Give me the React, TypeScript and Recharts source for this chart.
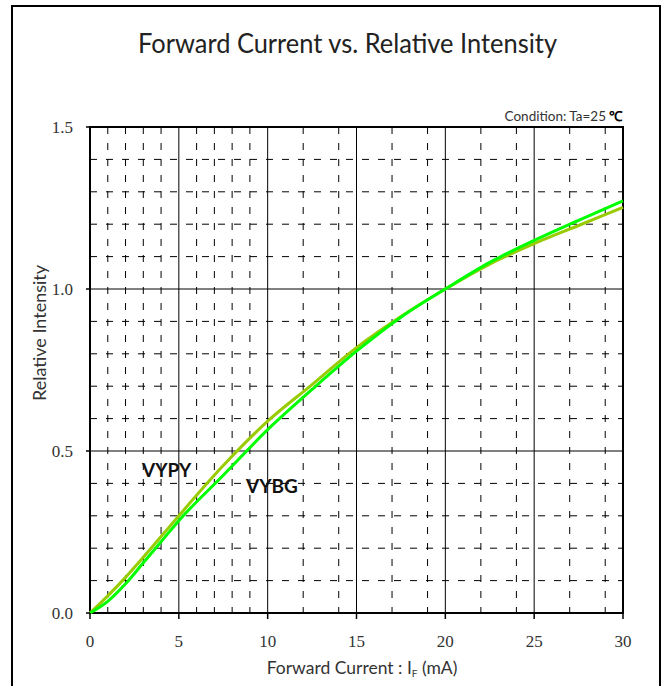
import React from 'react';
import {
  LineChart,
  Line,
  XAxis,
  YAxis,
  CartesianGrid,
  ReferenceArea,
} from 'recharts';

// Forward current (mA) sample points
const currentMA = [0, 1, 2, 3, 4, 5, 7.5, 10, 12.5, 15, 17.5, 20, 22.5, 25, 27.5, 30];
// Relative intensity per part number
const vypyIntensity = [0, 0.053, 0.11, 0.172, 0.236, 0.3, 0.455, 0.592, 0.705, 0.819, 0.915, 1.0, 1.077, 1.14, 1.196, 1.252];
const vybgIntensity = [0, 0.036, 0.09, 0.155, 0.22, 0.285, 0.425, 0.566, 0.69, 0.808, 0.913, 1.0, 1.082, 1.15, 1.212, 1.272];

const xTicks = [0, 5, 10, 15, 20, 25, 30];
const yTicks = [0, 0.5, 1.0, 1.5];
const majorX = [5, 10, 15, 20, 25];
const majorY = [0.5, 1.0];
const minorX = [1, 2, 3, 4, 6, 7, 8, 9, 11, 12, 13, 14, 16, 17, 18, 19, 21, 22, 23, 24, 26, 27, 28, 29];
const minorY = [0.1, 0.2, 0.3, 0.4, 0.6, 0.7, 0.8, 0.9, 1.1, 1.2, 1.3, 1.4];

const data = currentMA.map((i, k) => ({
  i,
  VYPY: vypyIntensity[k],
  VYBG: vybgIntensity[k],
}));

const W = 666;
const H = 686;
const sans = 'Lato, "Open Sans", sans-serif';
const serif = 'Liberation Serif, DejaVu Serif, serif';

// Serif tick labels under the current axis
const XTick = (props: any) => {
  const { x, y, payload } = props;
  return (
    <text x={x} y={y} dy="0.71em" textAnchor="middle" fontFamily={serif} fontSize={17} fill="#333">
      {payload.value}
    </text>
  );
};

// Serif tick labels beside the intensity axis
const YTick = (props: any) => {
  const { x, y, payload } = props;
  return (
    <text x={x} y={y} dy="0.355em" textAnchor="end" fontFamily={serif} fontSize={17} fill="#333">
      {Number(payload.value).toFixed(1)}
    </text>
  );
};

export default function App() {
  return (
    <div style={{ position: 'absolute', left: 0, top: 0, width: W, height: H, background: '#fff' }}>
      <LineChart
        width={W}
        height={H}
        data={data}
        margin={{ top: 127, right: 43, bottom: 0, left: 0 }}
      >
        <CartesianGrid
          stroke="#000"
          strokeWidth={1}
          strokeDasharray="7 9"
          horizontalValues={minorY}
          verticalValues={minorX}
        />
        <CartesianGrid
          stroke="#000"
          strokeWidth={1}
          horizontalValues={majorY}
          verticalValues={majorX}
        />
        <XAxis
          type="number"
          dataKey="i"
          domain={[0, 30]}
          ticks={xTicks}
          height={73}
          axisLine={false}
          tickLine={{ stroke: '#000', strokeWidth: 1.5 }}
          tickSize={6}
          tickMargin={16}
          tick={<XTick />}
        />
        <YAxis
          type="number"
          domain={[0, 1.5]}
          ticks={yTicks}
          width={90}
          axisLine={false}
          tickLine={{ stroke: '#000', strokeWidth: 1.5 }}
          tickSize={4}
          tickMargin={13}
          tick={<YTick />}
        />
        <Line
          type="monotone"
          dataKey="VYPY"
          stroke="#99CC00"
          strokeWidth={3}
          dot={false}
          isAnimationActive={false}
        />
        <Line
          type="monotone"
          dataKey="VYBG"
          stroke="#00FF00"
          strokeWidth={3}
          dot={false}
          isAnimationActive={false}
        />
        <ReferenceArea
          x1={0}
          x2={30}
          y1={0}
          y2={1.5}
          fill="none"
          fillOpacity={0}
          stroke="#000"
          strokeWidth={2}
          ifOverflow="visible"
        />
      </LineChart>

      <svg
        width={W}
        height={H}
        style={{ position: 'absolute', left: 0, top: 0, pointerEvents: 'none' }}
      >
        <rect x={12} y={6} width={648} height={700} fill="none" stroke="#000" strokeWidth={2} />
        <text
          x={138}
          y={53}
          fontFamily={sans}
          fontSize={26}
          fill="#222"
          textLength={419}
          lengthAdjust="spacingAndGlyphs"
        >
          Forward Current vs. Relative Intensity
        </text>
        <text x={622} y={121} textAnchor="end" fontFamily={sans} fontSize={13.5} fill="#333">
          Condition: Ta=25
          <tspan dx={3} fontWeight="bold" fill="#000">℃</tspan>
        </text>
        <text x={362} y={674} textAnchor="middle" fontFamily={sans} fontSize={17.5} fill="#333">
          Forward Current : I
          <tspan fontSize={10} dy={3}>F</tspan>
          <tspan dy={-3}> (mA)</tspan>
        </text>
        <text
          transform="translate(46,333) rotate(-90)"
          textAnchor="middle"
          fontFamily={sans}
          fontSize={18}
          fill="#333"
        >
          Relative Intensity
        </text>
        <text x={142} y={477} fontFamily={sans} fontWeight="bold" fontSize={19} fill="#111">
          VYPY
        </text>
        <text x={246} y={493} fontFamily={sans} fontWeight="bold" fontSize={19} fill="#111">
          VYBG
        </text>
      </svg>
    </div>
  );
}
